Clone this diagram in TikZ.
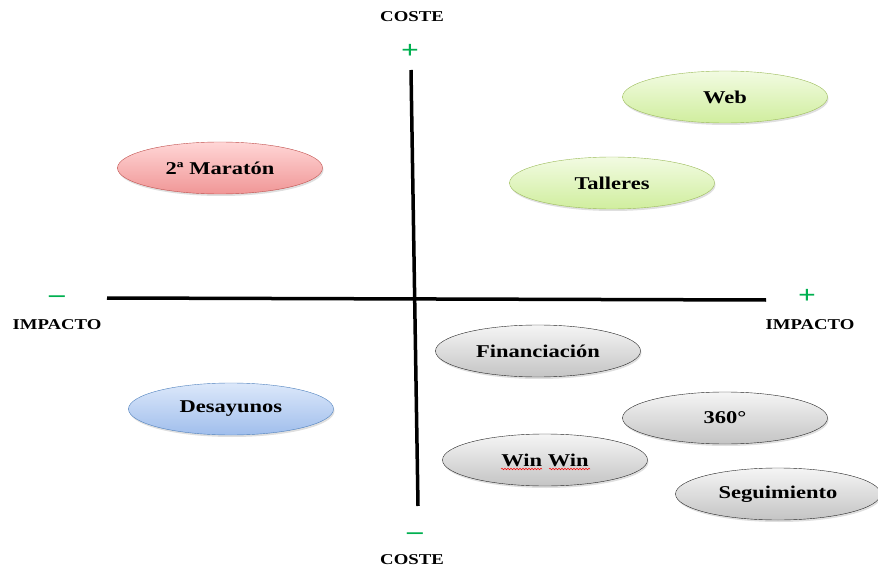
\documentclass[tikz,border=0pt]{standalone}
\usepackage{fontspec}
\setmainfont{Liberation Serif}[FakeStretch=1.25]
\usepackage{tikz}
\usetikzlibrary{shapes.geometric,shadows,decorations.pathmorphing,positioning}
\definecolor{signgreen}{RGB}{0, 176, 80}
\definecolor{webgreenA}{RGB}{242, 251, 226}
\definecolor{webgreenB}{RGB}{208, 238, 158}
\definecolor{webgreenD}{RGB}{155, 187, 89}
\definecolor{marared}{RGB}{255, 214, 214}
\definecolor{mararedB}{RGB}{240, 150, 150}
\definecolor{mararedD}{RGB}{192, 80, 77}
\definecolor{desblue}{RGB}{220, 232, 250}
\definecolor{desblueB}{RGB}{160, 190, 236}
\definecolor{desblueD}{RGB}{79, 129, 189}
\definecolor{grayA}{RGB}{245, 245, 245}
\definecolor{grayB}{RGB}{196, 196, 196}

\begin{document}
\begin{tikzpicture}[
        x=1pt, y=-1pt,
        idea/.style={ellipse, minimum width=205pt, minimum height=52pt, inner sep=0pt, font=\fontsize{18}{20}\selectfont\bfseries, drop shadow={opacity=0.25, shadow xshift=1pt, shadow yshift=-2pt}},
        greenidea/.style={idea, draw=webgreenD, top color=webgreenA, bottom color=webgreenB},
        redidea/.style={idea, draw=mararedD, top color=marared, bottom color=mararedB},
        blueidea/.style={idea, draw=desblueD, top color=desblue, bottom color=desblueB},
        grayidea/.style={idea, draw=black!85, top color=grayA, bottom color=grayB},
        axislabel/.style={font=\fontsize{15}{17}\selectfont\bfseries},
        sign/.style={text=signgreen, font=\fontsize{25}{25}\selectfont\bfseries},
        axis/.style={line width=3.5pt, black}
    ]
        \useasboundingbox (0,0) rectangle (878,572);

        % Axes
        \coordinate (ctop) at (411,70);
        \coordinate (cbot) at (418,506);
        \coordinate (ileft) at (107,298);
        \coordinate (iright) at (766,300);
        \draw[axis] (ileft) -- (iright);
        \draw[axis] (ctop) -- (cbot);

        % Axis labels
        \node[axislabel] (costetop) at (412,17) {COSTE};
        \node[sign] (costeplus) at (410,51) {+};
        \node[sign] (costeminus) at (415,536) {–};
        \node[axislabel] (costebot) at (412,560) {COSTE};
        \node[sign] (impminus) at (57,299) {–};
        \node[axislabel] (impleft) at (57,325) {IMPACTO};
        \node[sign] (impplus) at (807,296) {+};
        \node[axislabel] (impright) at (810,325) {IMPACTO};

        % Ideas
        \node[greenidea] (web) at (725,97) {Web};
        \node[greenidea] (talleres) at (612,183) {Talleres};
        \node[redidea] (maraton) at (220,168) {2ª Maratón};
        \node[grayidea] (financ) at (538,351) {Financiación};
        \node[blueidea] (desayunos) at (231,409) {Desayunos};
        \node[grayidea] (tres) at (725,418) {360°};
        \node[grayidea] (winwin) at (545,460) {Win Win};
        \node[grayidea] (seguim) at (778,494) {Seguimiento};

        % Spell check marks
        \draw[red, line width=0.5pt, decorate, decoration={snake, amplitude=0.8pt, segment length=3pt}]
            ([shift={(-44,9)}]winwin.center) -- ([shift={(-3,9)}]winwin.center);
        \draw[red, line width=0.5pt, decorate, decoration={snake, amplitude=0.8pt, segment length=3pt}]
            ([shift={(4,9)}]winwin.center) -- ([shift={(45,9)}]winwin.center);
    \end{tikzpicture}
\end{document}
